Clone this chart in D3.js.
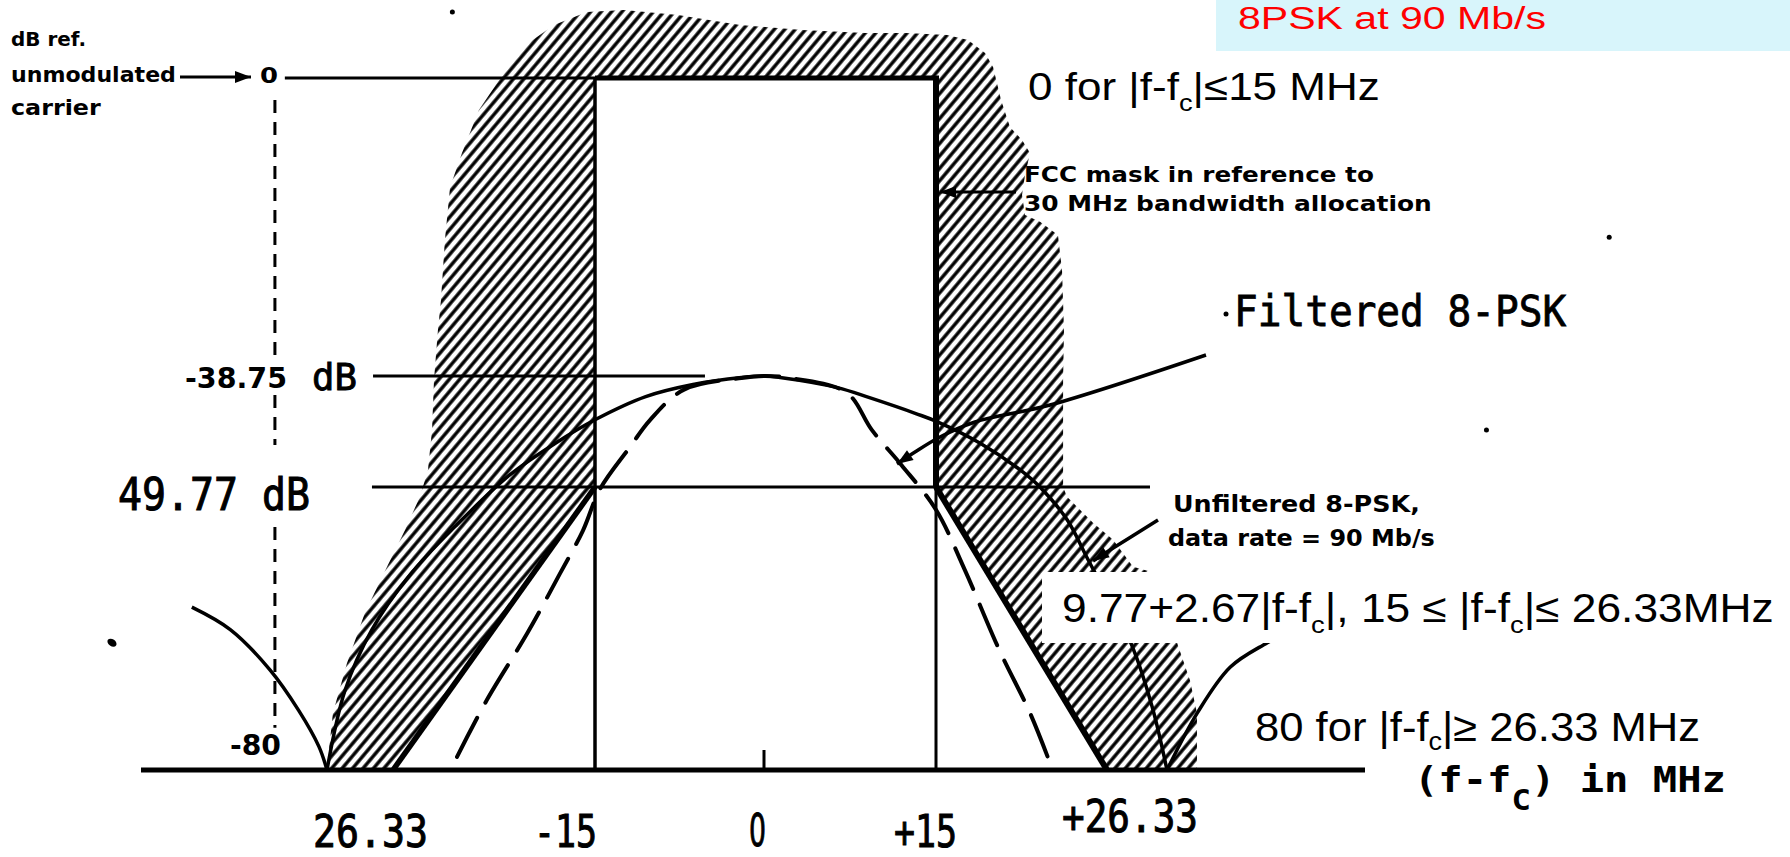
<!DOCTYPE html>
<html><head><meta charset="utf-8">
<script src="https://cdn.jsdelivr.net/npm/d3@7"></script>
<style>html,body{margin:0;padding:0;background:#fff;overflow:hidden}</style>
</head><body>
<svg id="chart" width="1790" height="857"></svg>
<script>
// ================= DATA (MHz offset from carrier, dB ref. unmodulated carrier) =================
const freqStops = [-45, -30, -26.33, -15, 0, 15, 26.33, 30, 45];
const dbStops   = [0, -38.75, -49.77, -80];

// FCC mask (0 dB for |f|<=15, 49.77 dB at 15 MHz, sloping to 80 dB at 26.33 MHz)
const maskF  = [-15, 15, 15, 26.33, -26.33, -15];
const maskDb = [0, 0, -49.77, -80, -80, -49.77];

// Unfiltered 8-PSK spectrum (main lobe)
const unfilteredF  = [-30, -29.0, -27.5, -25.4, -22.85, -19.8, -17.2, -15, -10.5, -6.3, -2.0, 0, 1.4, 6.4, 9.2, 13.3, 15.1, 17.9, 20.6, 21.9, 23.7, 25.0, 26.7, 27.9, 29.1, 30];
const unfilteredDb = [-80, -71.5, -65.0, -59.2, -54.0, -48.6, -45.4, -43.1, -40.8, -39.6, -38.9, -38.75, -38.9, -39.9, -40.9, -42.5, -43.3, -45.4, -48.1, -49.8, -53.3, -57.3, -62.6, -66.9, -73.3, -80];
// Unfiltered side lobes
const sideLeftF   = [-40.9, -37.8, -34.6, -32.3, -30.65, -30];
const sideLeftDb  = [-62.6, -65.0, -69.3, -73.6, -77.5, -80];
const sideRightF  = [30, 32.3, 34.8, 37.6, 40.1];
const sideRightDb = [-80, -73.9, -69.0, -66.4, -64.5];

// Filtered 8-PSK spectrum (dashed)
const filteredF  = [-22.74, -21.06, -18.8, -16.96, -15.67, -14.56, -11.9, -10.1, -7.1, -2.0, 0, 2.3, 7.2, 9.4, 12.0, 15.0, 16.9, 19.2, 21.2, 22.4];
const filteredDb = [-78.6, -72.5, -65.4, -59.0, -54.4, -50.0, -45.8, -43.1, -40.1, -38.95, -38.75, -38.95, -40.4, -44.1, -47.6, -52.2, -58.6, -67.2, -73.8, -78.6];

// Outline of the hatched (forbidden) region
const hatchF  = [-30, -29.67, -28.89, -27.89, -26.66, -25.66, -24.82, -24.37, -24.14, -24.03, -23.81, -23.64, -23.42, -23.13, -22.46, -21.51, -19.88, -18.65, -17.3, -15.45,
                 -12.43, -7.64, -2.13, 3.31, 8.81, 12.38, 15.73, 17.12, 18.25, 18.78, 19.31, 19.9, 20.7, 21.23, 20.9, 20.7, 20.9, 21.89, 23.08, 23.35, 23.48, 23.42, 23.42,
                 23.68, 25.4, 26.7, 27.92, 28.96, 29.88, 30.76, 31.74, 32.27, 32.27];
const hatchDb = [-79.8, -73.9, -68.6, -63.2, -58.3, -54.4, -50.8, -48.1, -44.1, -39.15, -32.8, -28.9, -21.1, -14.2, -9.75, -4.16, 1.43, 4.68, 6.9, 8.58,
                 8.84, 8.19, 6.89, 6.24, 5.85, 5.85, 5.59, 4.94, 3.25, 1.43, -2.86, -6.37, -8.06, -9.75, -12.6, -15.2, -17.8, -18.7, -20.4, -25.0, -32.8, -39.15, -49.77,
                 -50.8, -53.6, -55.4, -58.3, -58.8, -62.9, -66.4, -70.4, -73.9, -79.8];

// Reference levels
const refLevelsDb  = [-38.75, -49.77];
const refLineFrom  = [-27.44, -27.5];
const refLineTo    = [-5.24, 28.96];
const zeroLineFrom = -33.4;
const axisF        = -34.2;
const axisSegDb    = [[-2.86, -36.7], [-40.64, -45.6], [-54.04, -75.5]];

// Tick labels
const tickValues = [-26.33, -15, 0, 15, 26.33];
const tickLabels = ["26.33", "-15", "0", "+15", "+26.33"];

// scan specks
const speckF  = [-47.34, 63.5, 54.2, -23.0];
const speckDb = [-66.4, -20.7, -44.1, 8.58];

// ================= LAYOUT =================
const W = 1790, H = 857;
const xRange = [141, 327, 393, 595, 764, 936, 1107, 1167, 1365];
const yRange = [78, 376, 487, 770];
const tickDx   = [-80, -61, -15, -42, -45];
const tickW    = [115, 63, 17, 63, 136];
const tickBase = [847, 847, 846, 847, 832];

const svg = d3.select("#chart");
svg.append("rect").attr("width", W).attr("height", H).attr("fill", "#fff");

const x = d3.scaleLinear().domain(freqStops).range(xRange);
const y = d3.scaleLinear().domain(dbStops).range(yRange);

const defs = svg.append("defs");
const pat = defs.append("pattern").attr("id", "hatch").attr("patternUnits", "userSpaceOnUse")
  .attr("width", 8).attr("height", 8).attr("patternTransform", "rotate(40)");
pat.append("line").attr("x1", 4).attr("y1", -1).attr("x2", 4).attr("y2", 9)
  .attr("stroke", "#000").attr("stroke-width", 3.4);

const zip = (a, b) => a.map((v, i) => [v, b[i]]);
const lin = d3.line().x(d => x(d[0])).y(d => y(d[1]));
const smooth = d3.line().x(d => x(d[0])).y(d => y(d[1])).curve(d3.curveCatmullRom.alpha(0.5));

// hatched region
svg.append("path").attr("d", lin(zip(hatchF, hatchDb)) + "Z").attr("fill", "url(#hatch)");
// clear mask interior
svg.append("path").attr("d", lin(zip(maskF, maskDb)) + "Z").attr("fill", "#fff");

const ink = "#000";
function seg(x1, y1, x2, y2, w) {
  return svg.append("line").attr("x1", x1).attr("y1", y1).attr("x2", x2).attr("y2", y2)
    .attr("stroke", ink).attr("stroke-width", w).attr("stroke-linecap", "butt");
}

// dashed vertical dB axis
axisSegDb.forEach(s => seg(x(axisF), y(s[0]), x(axisF), y(s[1]), 3).attr("stroke-dasharray", "13 9"));

// 0 dB reference line & mask top
seg(x(zeroLineFrom), y(0), x(-15), y(0), 3);
seg(x(-15), y(0), x(15) + 3, y(0), 5);
// reference levels
refLevelsDb.forEach((d, i) => seg(x(refLineFrom[i]), y(d), x(refLineTo[i]), y(d), 3));

// mask verticals and slopes
seg(x(-15), y(0), x(-15), y(-80), 3.5);
seg(x(15), y(0), x(15), y(-49.77), 6);
seg(x(15), y(-49.77), x(15), y(-80), 3);
svg.append("path").attr("d", lin([[-15, -49.77], [-26.33, -80]])).attr("stroke", ink).attr("stroke-width", 5.5).attr("fill", "none");
svg.append("path").attr("d", lin([[15, -49.77], [26.33, -80]])).attr("stroke", ink).attr("stroke-width", 6).attr("fill", "none");

// baseline (80 dB floor / frequency axis)
seg(x(-45), y(-80), x(45), y(-80), 5);
seg(x(0), y(-80) - 20, x(0), y(-80), 3);

// spectra
const curveStyle = p => p.attr("fill", "none").attr("stroke", ink).attr("stroke-linejoin", "round");
curveStyle(svg.append("path").attr("d", smooth(zip(unfilteredF, unfilteredDb)))).attr("stroke-width", 3.5);
curveStyle(svg.append("path").attr("d", smooth(zip(sideLeftF, sideLeftDb)))).attr("stroke-width", 3.5);
curveStyle(svg.append("path").attr("d", smooth(zip(sideRightF, sideRightDb)))).attr("stroke-width", 3.5);
curveStyle(svg.append("path").attr("d", smooth(zip(filteredF, filteredDb)))).attr("stroke-width", 4)
  .attr("stroke-dasharray", "44 17").attr("stroke-linecap", "round");

// specks
speckF.forEach((f, i) => svg.append("ellipse").attr("cx", x(f)).attr("cy", y(speckDb[i]))
  .attr("rx", i === 0 ? 5 : 2.5).attr("ry", i === 0 ? 3.5 : 2.5).attr("fill", ink)
  .attr("transform", i === 0 ? `rotate(35 ${x(f)} ${y(speckDb[i])})` : null));

// arrows
function arrowHead(tip, from, len, half) {
  const dx = tip[0] - from[0], dy = tip[1] - from[1], L = Math.hypot(dx, dy);
  const ux = dx / L, uy = dy / L;
  const bx = tip[0] - ux * len, by = tip[1] - uy * len;
  svg.append("path").attr("d", `M${tip[0]},${tip[1]}L${bx - uy * half},${by + ux * half}L${bx + uy * half},${by - ux * half}Z`).attr("fill", ink);
}
function pointer(pts, w) {
  svg.append("path").attr("d", d3.line().curve(d3.curveCatmullRom)(pts)).attr("fill", "none").attr("stroke", ink).attr("stroke-width", w);
  arrowHead(pts[pts.length - 1], pts[pts.length - 2], 16, 6);
}
pointer([[180, 77], [238, 77], [251, 77]], 3);
pointer([[1016, 192], [955, 192], [940, 192]], 3);
pointer([[1206, 355], [1050, 405], [975, 422], [940, 437], [915, 452], [897, 464]], 3.5);
pointer([[1158, 520], [1110, 550], [1093, 561]], 3.5);

// white box behind the mask-slope formula
svg.append("rect").attr("x", 1042).attr("y", 572).attr("width", W - 1042).attr("height", 71).attr("fill", "#fff");
// title box
svg.append("rect").attr("x", 1216).attr("y", 0).attr("width", W - 1216).attr("height", 51).attr("fill", "#d8f5fb");

// ---------- text helpers ----------
const SCAN = "'DejaVu Sans', 'Liberation Sans', sans-serif";
const MONO = "'DejaVu Sans Mono', 'Liberation Mono', monospace";
const PPT  = "'Liberation Sans Narrow', 'Liberation Sans', Arial, sans-serif";
function richText(segs, o) {
  const t = svg.append("text").attr("x", 0).attr("y", o.base).attr("font-family", o.family)
    .attr("font-size", o.size).attr("font-weight", o.weight || "normal").attr("fill", o.fill || ink)
    .style("white-space", "pre");
  if (o.stroke) t.attr("stroke", ink).attr("stroke-width", o.stroke);
  let shift = 0;
  segs.forEach(s => {
    const sp = t.append("tspan").text(s.t);
    if (s.sub) { const d = o.size * (s.dy || 0.28); sp.attr("font-size", o.size * (s.scale || 0.62)).attr("dy", d); shift = d; }
    else if (shift) { sp.attr("dy", -shift); shift = 0; }
  });
  const bb = t.node().getBBox();
  const k = o.width / bb.width;
  t.attr("transform", `translate(${o.left},0) scale(${k},1) translate(${-bb.x},0)`);
  return t;
}
const plain = (s, o) => richText([{ t: s }], o);

// scan labels, upper-left
plain("dB ref.",     { left: 11, width: 75,  base: 46,  size: 20, family: SCAN, weight: "bold" });
plain("unmodulated", { left: 11, width: 165, base: 82,  size: 22, family: SCAN, weight: "bold" });
plain("carrier",     { left: 11, width: 90,  base: 115, size: 22, family: SCAN, weight: "bold" });
plain("0",           { left: 260, width: 18, base: y(0) + 5, size: 22, family: SCAN, weight: "bold" });

// dB level labels
plain("-38.75",   { left: 185, width: 102, base: y(-38.75) + 12, size: 29, family: SCAN, weight: "bold" });
plain("dB",       { left: 312, width: 45,  base: y(-38.75) + 14, size: 37, family: MONO, stroke: 0.9 });
plain("49.77 dB", { left: 118, width: 192, base: y(-49.77) + 23, size: 44, family: MONO, stroke: 1 });
plain("-80",      { left: 230, width: 51,  base: y(-80) - 15, size: 29, family: SCAN, weight: "bold" });

// tick labels (plain zero glyph for "0")
tickValues.forEach((v, i) => plain(tickLabels[i], { left: x(v) + tickDx[i], width: tickW[i], base: tickBase[i], size: 44,
  family: tickLabels[i] === "0" ? SCAN : MONO, stroke: 1 }));

// annotations
plain("FCC mask in reference to",    { left: 1024, width: 350, base: 182, size: 21, family: SCAN, weight: "bold" });
plain("30 MHz bandwidth allocation", { left: 1024, width: 408, base: 211, size: 21, family: SCAN, weight: "bold" });
plain("Filtered 8-PSK", { left: 1234, width: 333, base: 326, size: 42, family: MONO, stroke: 0.8 });
svg.append("circle").attr("cx", 1226).attr("cy", 314).attr("r", 2.5).attr("fill", ink);
plain("Unfiltered 8-PSK,",   { left: 1173, width: 247, base: 512, size: 23, family: SCAN, weight: "bold" });
plain("data rate = 90 Mb/s", { left: 1168, width: 267, base: 546, size: 23, family: SCAN, weight: "bold" });
richText([{ t: "(f-f" }, { t: "C", sub: true, scale: 0.8, dy: 0.5 }, { t: ") in MHz" }],
  { left: 1414, width: 312, base: 792, size: 36, family: MONO, weight: "bold" });

// overlay (presentation) labels
plain("8PSK at 90 Mb/s", { left: 1238, width: 308, base: 29, size: 31, family: PPT, fill: "#ff0000" });
richText([{ t: "0 for |f-f" }, { t: "c", sub: true }, { t: "|\u226415 MHz" }],
  { left: 1028, width: 352, base: 100, size: 39, family: PPT });
richText([{ t: "9.77+2.67|f-f" }, { t: "c", sub: true }, { t: "|, 15 \u2264 |f-f" }, { t: "c", sub: true }, { t: "|\u2264 26.33MHz" }],
  { left: 1062, width: 712, base: 622, size: 40, family: PPT });
richText([{ t: "80 for |f-f" }, { t: "c", sub: true, dy: 0.22 }, { t: "|\u2265 26.33 MHz" }],
  { left: 1255, width: 445, base: 741, size: 41, family: PPT });
</script>
</body></html>
